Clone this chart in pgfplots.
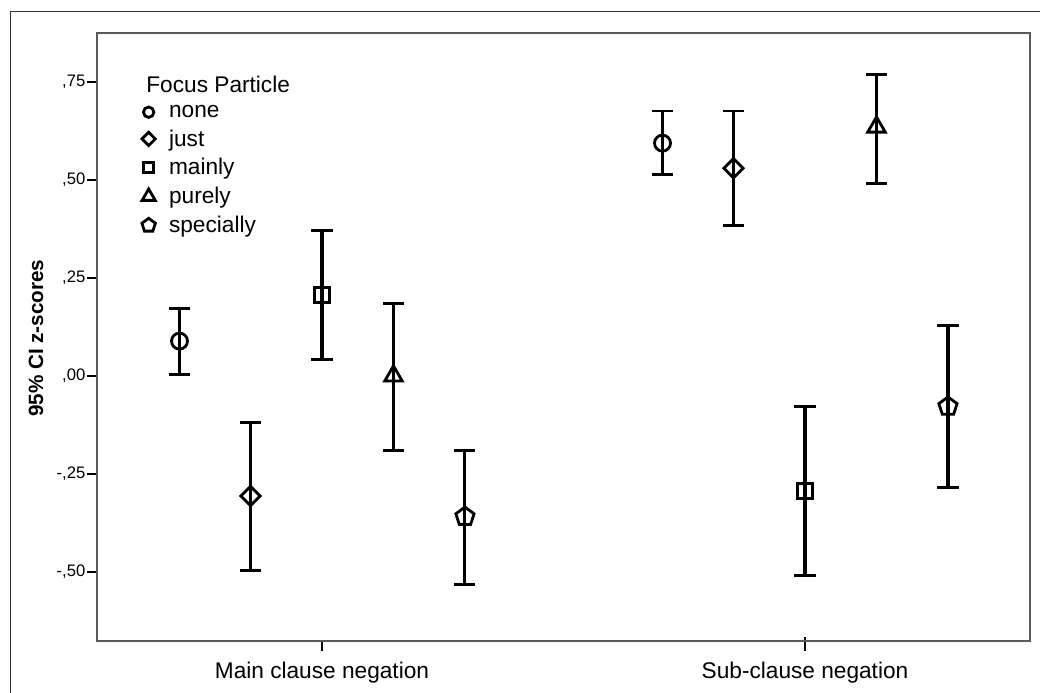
\documentclass[border=0pt]{standalone}
\usepackage{fontspec}
\setmainfont{Liberation Sans}
\usepackage{pgfplots}
\usepackage{pgfplotstable}
\pgfplotsset{compat=1.18}

% x: group (1 = main clause, 2 = sub-clause) plus offset; y: mean; lo/hi: 95% CI
\pgfplotstableread{
x y lo hi
0.705 0.089 0.005 0.173
1.705 0.594 0.515 0.676
}\nonedata
\pgfplotstableread{
x y lo hi
0.852 -0.306 -0.495 -0.118
1.852 0.530 0.385 0.676
}\justdata
\pgfplotstableread{
x y lo hi
1.000 0.206 0.041 0.370
2.000 -0.293 -0.509 -0.078
}\mainlydata
\pgfplotstableread{
x y lo hi
1.148 0.000 -0.191 0.185
2.148 0.635 0.492 0.770
}\purelydata
\pgfplotstableread{
x y lo hi
1.296 -0.359 -0.531 -0.189
2.296 -0.078 -0.285 0.130
}\speciallydata

\pgfplotsset{
  ci/.style={
    forget plot, only marks, black, line width=2.1pt,
    error bars/y dir=both, error bars/y explicit,
    error bars/error bar style={line width=2.3pt, black},
    error bars/error mark options={rotate=90, line width=2.2pt, mark size=7.9pt, black},
  },
  key/.style={only marks, black, line width=2.1pt},
}

\begin{document}
\begin{tikzpicture}[x=1pt,y=1pt]
\path[use as bounding box] (0,0) rectangle (780,519.75);
\draw[black!80, line width=0.75pt] (7.5,0) -- (7.5,510.75) -- (780,510.75);
\begin{axis}[
  at={(72.75pt,39pt)}, anchor=south west,
  scale only axis, width=699.75pt, height=456pt,
  xmin=0.5342, xmax=2.4658, ymin=-0.676, ymax=0.875,
  xtick={1,2},
  xticklabels={Main clause negation, Sub-clause negation},
  ytick={-0.5,-0.25,0,0.25,0.5,0.75},
  yticklabels={{-,50},{-,25},{,00},{,25},{,50},{,75}},
  xtick pos=left, ytick pos=left,
  tick align=outside,
  major tick length=7.5pt,
  tick style={black, line width=1pt},
  xtick style={shorten >=-3pt},
  axis line style={black!65, line width=1pt},
  xticklabel style={font=\fontsize{17}{20}\selectfont, yshift=-5pt},
  yticklabel style={font=\fontsize{12.5}{15}\selectfont, inner xsep=1pt},
  ylabel={\bfseries 95\% CI z-scores},
  ylabel style={font=\fontsize{15.5}{18}\selectfont,
    at={(axis description cs:-0.0654,0.498)}, anchor=center},
  legend style={draw=none, fill=none,
    at={(axis description cs:0.0386,0.938)}, anchor=north west,
    font=\fontsize{17}{20}\selectfont, row sep=3.8pt,
    /tikz/every odd column/.append style={column sep=8.25pt}},
  legend cell align=left,
]
\addplot[ci, mark=o, mark size=6pt]
  table[x=x, y=y, y error plus expr=\thisrow{hi}-\thisrow{y},
        y error minus expr=\thisrow{y}-\thisrow{lo}] {\nonedata};
\addplot[ci, mark=diamond, mark size=7.2pt, mark options={xscale=1.33}]
  table[x=x, y=y, y error plus expr=\thisrow{hi}-\thisrow{y},
        y error minus expr=\thisrow{y}-\thisrow{lo}] {\justdata};
\addplot[ci, mark=square, mark size=5.6pt]
  table[x=x, y=y, y error plus expr=\thisrow{hi}-\thisrow{y},
        y error minus expr=\thisrow{y}-\thisrow{lo}] {\mainlydata};
\addplot[ci, mark=triangle, mark size=7.6pt]
  table[x=x, y=y, y error plus expr=\thisrow{hi}-\thisrow{y},
        y error minus expr=\thisrow{y}-\thisrow{lo}] {\purelydata};
\addplot[ci, mark=pentagon, mark size=7.2pt]
  table[x=x, y=y, y error plus expr=\thisrow{hi}-\thisrow{y},
        y error minus expr=\thisrow{y}-\thisrow{lo}] {\speciallydata};

\addlegendimage{empty legend}
\addlegendentry{\hspace{-17pt}Focus Particle}
\addlegendimage{key, mark=o, mark size=3.9pt}
\addlegendentry{none}
\addlegendimage{key, mark=diamond, mark size=5pt, mark options={xscale=1.33}}
\addlegendentry{just}
\addlegendimage{key, mark=square, mark size=3.7pt}
\addlegendentry{mainly}
\addlegendimage{key, mark=triangle, mark size=5.7pt}
\addlegendentry{purely}
\addlegendimage{key, mark=pentagon, mark size=5.3pt}
\addlegendentry{specially}
\end{axis}
\end{tikzpicture}
\end{document}
